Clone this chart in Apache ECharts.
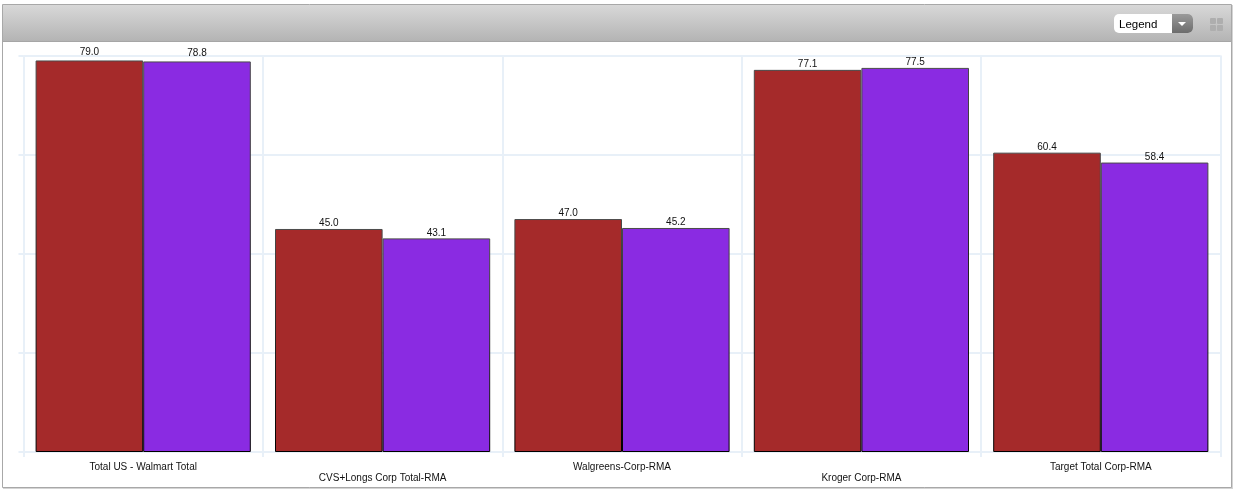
<!DOCTYPE html>
<html><head><meta charset="utf-8">
<style>html,body{margin:0;padding:0;background:#fff}#c{width:1235px;height:503px}</style>
<script src="https://cdn.jsdelivr.net/npm/echarts@6/dist/echarts.min.js"></script>
</head><body><div id="c"></div>
<script>
const categories = ['Total US - Walmart Total','CVS+Longs Corp Total-RMA','Walgreens-Corp-RMA','Kroger Corp-RMA','Target Total Corp-RMA'];
const seriesA = [79.0,45.0,47.0,77.1,60.4];
const seriesB = [78.8,43.1,45.2,77.5,58.4];
const FONT = '"Liberation Sans", Arial, sans-serif';
const GRIDC = '#e8f0f8';
const border = {type:'linear',x:0,y:0,x2:0,y2:1,colorStops:[{offset:0,color:'#4a4a4a'},{offset:1,color:'#000'}]};
function bar(name,data,color){
  return {name,type:'bar',barWidth:107.6,barGap:'0%',
    data:data.map((v,i)=> i===0 ? {value:v,label:{distance:3.5}} : v),
    itemStyle:{color,borderColor:border,borderWidth:1},
    label:{show:true,position:'top',distance:0.5,formatter:p=>p.value.toFixed(1),fontFamily:FONT,fontSize:10,color:'#111'}};
}
function iconSquare(x,y){
  return {type:'rect',z:5,shape:{x,y,width:6,height:6,r:1},style:{fill:'#aeaeae'}};
}
const chart = echarts.init(document.getElementById('c'),null,{renderer:'canvas'});
chart.setOption({
  animation:false,
  backgroundColor:'#fff',
  graphic:[
    {type:'rect',z:-11,shape:{x:3,y:5,width:1230,height:484},style:{fill:'#d4d4d4'}},
    {type:'rect',z:-10,shape:{x:2.5,y:4.5,width:1229,height:483},style:{fill:'#fff',stroke:'#a8a8a8',lineWidth:1}},
    {type:'rect',z:-9,shape:{x:3,y:5,width:1228,height:36},style:{fill:new echarts.graphic.LinearGradient(0,0,0,1,[{offset:0,color:'#d8d8d8'},{offset:1,color:'#b4b4b4'}])}},
    {type:'rect',z:-9,shape:{x:3,y:41,width:1228,height:1},style:{fill:'#a6a6a6'}},
    {type:'rect',z:5,shape:{x:1114,y:14,width:79,height:19,r:5},style:{fill:'#fff'}},
    {type:'rect',z:6,shape:{x:1172,y:14,width:21,height:19,r:[0,5,5,0]},style:{fill:new echarts.graphic.LinearGradient(0,0,0,1,[{offset:0,color:'#9a9a9a'},{offset:1,color:'#6c6c6c'}])}},
    {type:'polygon',z:7,shape:{points:[[1178,22],[1186,22],[1182,26]]},style:{fill:'#fff'}},
    {type:'text',z:7,style:{x:1119,y:25,text:'Legend',fontFamily:FONT,fontSize:11.5,fill:'#000',verticalAlign:'middle'}},
    iconSquare(1210,18),iconSquare(1217,18),iconSquare(1210,25),iconSquare(1217,25)
  ],
  grid:{left:23.5,right:14.5,top:55.5,bottom:51,containLabel:false},
  xAxis:{type:'category',data:categories,
    axisLine:{show:false},
    axisTick:{show:true,length:5,alignWithLabel:false,lineStyle:{color:GRIDC,width:2}},
    splitLine:{show:true,lineStyle:{color:GRIDC,width:2}},
    axisLabel:{interval:0,hideOverlap:false,margin:10,fontFamily:FONT,fontSize:10,lineHeight:11,color:'#111',
      formatter:(v,i)=> i%2 ? '\n'+v : v+'\n'}},
  yAxis:{type:'value',min:0,max:80,interval:20,
    axisLine:{show:false},
    axisLabel:{show:false},
    axisTick:{show:true,length:5,lineStyle:{color:GRIDC,width:2}},
    splitLine:{show:true,lineStyle:{color:GRIDC,width:2}}},
  series:[bar('Series 1',seriesA,'#A52A2A'),bar('Series 2',seriesB,'#8A2BE2')]
});
</script></body></html>
